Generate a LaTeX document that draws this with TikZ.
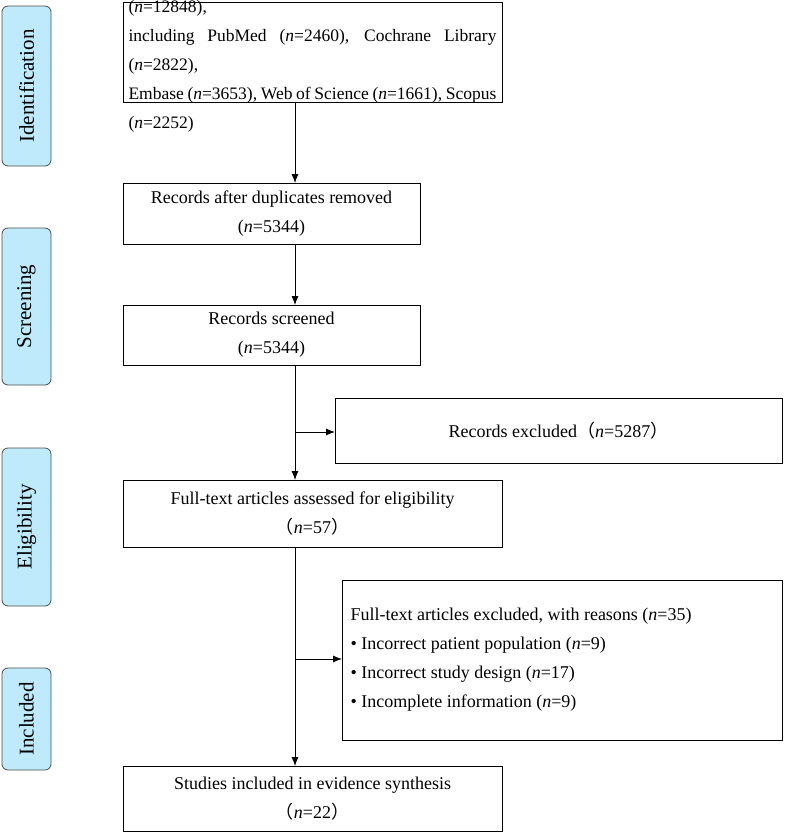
\documentclass[tikz,border=0pt]{standalone}
\usepackage{fontspec}
\usetikzlibrary{arrows.meta}
\setmainfont{Liberation Serif}
\newfontfamily\cjk{Noto Sans CJK SC}
\newcommand{\lp}{{\cjk （}}
\newcommand{\rp}{{\cjk ）}}
\begin{document}
\begin{tikzpicture}[x=1pt,y=-1pt,
 box/.style={draw,thick,inner sep=0},
 side/.style={draw=black!70,thick,fill=cyan!25,rounded corners=6pt},
 sidet/.style={rotate=90,font=\fontsize{21}{24}\selectfont},
 arr/.style={thick,-{Latex[length=9pt,width=7pt]}},
 txt/.style={font=\fontsize{18}{29}\selectfont,align=center}]
\useasboundingbox (0,0) rectangle (786,833);
\foreach \n/\a/\b/\t in {s1/6/166/Identification,s2/228/385/Screening,s3/448/606/Eligibility,s4/668/770/Included}{
 \draw[side] (2,\a) rectangle (51,\b);
 \node[sidet] (\n) at (26.5,{(\a+\b)/2}) {\t};}
\draw[box] (123,2) rectangle (502,102);
\node[font=\fontsize{17.5}{29}\selectfont,text width=368pt,align=justify] (t1) at (312.5,52) {\hyphenpenalty=10000 Records identified through database searching (\textit{n}=12848),\linebreak including PubMed (\textit{n}=2460), Cochrane Library (\textit{n}=2822),\linebreak Embase (\textit{n}=3653), Web of Science (\textit{n}=1661), Scopus (\textit{n}=2252)};
\draw[box] (123,183) rectangle (420,244);
\node[txt] (t2) at (271.5,213.5) {Records after duplicates removed\\(\textit{n}=5344)};
\draw[box] (123,305) rectangle (420,365);
\node[txt] (t3) at (271.5,335) {Records screened\\(\textit{n}=5344)};
\draw[box] (335,398) rectangle (782,463);
\node[txt] (t4) at (558.5,430.5) {Records excluded\lp\textit{n}=5287\rp};
\draw[box] (123,480) rectangle (502,547);
\node[txt] (t5) at (312.5,513.5) {Full-text articles assessed for eligibility\\\lp\textit{n}=57\rp};
\draw[box] (342,580) rectangle (782,740);
\node[font=\fontsize{18}{29}\selectfont,align=left,anchor=west] (t6) at (347,660) {Full-text articles excluded, with reasons (\textit{n}=35)\\• Incorrect patient population (\textit{n}=9)\\• Incorrect study design (\textit{n}=17)\\• Incomplete information (\textit{n}=9)};
\draw[box] (123,766) rectangle (502,831);
\node[txt] (t7) at (312.5,798.5) {Studies included in evidence synthesis\\\lp\textit{n}=22\rp};
\coordinate (a1) at (295,102); \coordinate (a2) at (295,183);
\coordinate (a3) at (295,244); \coordinate (a4) at (295,305);
\coordinate (a5) at (295,365); \coordinate (a6) at (295,480);
\coordinate (a7) at (295,547); \coordinate (a8) at (295,766);
\coordinate (j1) at (295,432); \coordinate (e1) at (335,432);
\coordinate (j2) at (295,659); \coordinate (e2) at (342,659);
\draw[arr] (a1)--(a2);
\draw[arr] (a3)--(a4);
\draw[arr] (a5)--(a6);
\draw[arr] (a7)--(a8);
\draw[arr] (j1)--(e1);
\draw[arr] (j2)--(e2);
\end{tikzpicture}
\end{document}
